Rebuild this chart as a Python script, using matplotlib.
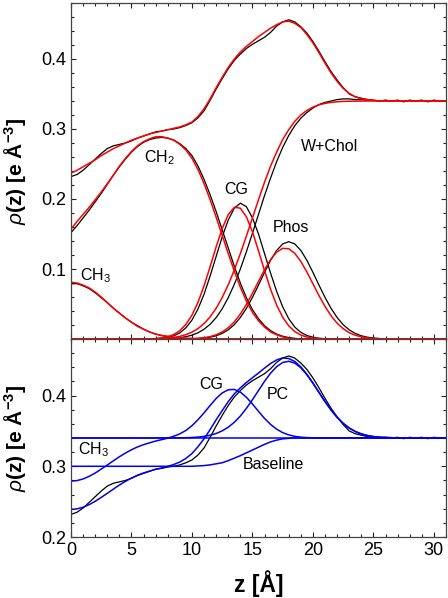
import matplotlib
matplotlib.use('Agg')
import matplotlib.pyplot as plt
from matplotlib.ticker import MultipleLocator

plt.rcParams['font.family'] = ['Liberation Sans', 'DejaVu Sans']
plt.rcParams['mathtext.fontset'] = 'custom'
plt.rcParams['mathtext.it'] = 'Liberation Sans:italic'
plt.rcParams['mathtext.rm'] = 'Liberation Sans'

# sample positions (Angstrom), every 0.5 from 0 to 31
z = [0.0, 0.5, 1.0, 1.5, 2.0, 2.5, 3.0, 3.5, 4.0, 4.5, 5.0, 5.5, 6.0, 6.5, 7.0, 7.5,
     8.0, 8.5, 9.0, 9.5, 10.0, 10.5, 11.0, 11.5, 12.0, 12.5, 13.0, 13.5, 14.0, 14.5,
     15.0, 15.5, 16.0, 16.5, 17.0, 17.5, 18.0, 18.5, 19.0, 19.5, 20.0, 20.5, 21.0,
     21.5, 22.0, 22.5, 23.0, 23.5, 24.0, 24.5, 25.0, 25.5, 26.0, 26.5, 27.0, 27.5,
     28.0, 28.5, 29.0, 29.5, 30.0, 30.5, 31.0]

# ---- top panel: simulation (black) and model fit (red) ----
total_sim = [0.232, 0.235, 0.241, 0.249, 0.257, 0.265, 0.272, 0.276, 0.278, 0.280, 0.283,
             0.287, 0.290, 0.293, 0.296, 0.297, 0.299, 0.300, 0.302, 0.305, 0.309, 0.316,
             0.326, 0.341, 0.357, 0.372, 0.386, 0.398, 0.407, 0.415, 0.421, 0.426, 0.431,
             0.438, 0.447, 0.453, 0.456, 0.453, 0.446, 0.437, 0.425, 0.411, 0.396, 0.382,
             0.370, 0.359, 0.350, 0.346, 0.344, 0.342, 0.341,
             0.340, 0.341, 0.340, 0.341, 0.339, 0.341, 0.340, 0.341, 0.339, 0.341, 0.340, 0.340]
total_fit = [0.237, 0.241, 0.246, 0.251, 0.256, 0.262, 0.267, 0.272, 0.276, 0.280, 0.284,
             0.287, 0.290, 0.293, 0.295, 0.297, 0.299, 0.301, 0.303, 0.306, 0.310, 0.318,
             0.329, 0.343, 0.359, 0.374, 0.388, 0.400, 0.410, 0.418, 0.425, 0.432, 0.438,
             0.444, 0.449, 0.453, 0.454, 0.451, 0.445, 0.435, 0.423, 0.409, 0.394, 0.380,
             0.368, 0.358, 0.351, 0.346, 0.343, 0.342, 0.341] + [0.340] * 12

ch3_sim = [0.079, 0.079, 0.076, 0.072, 0.066, 0.059, 0.052, 0.044, 0.037, 0.030, 0.024,
           0.019, 0.014, 0.010, 0.007, 0.005, 0.003, 0.002, 0.001, 0.001, 0.000] + [0.0] * 42
ch3_fit = [0.081, 0.080, 0.077, 0.073, 0.067, 0.060, 0.052, 0.044, 0.037, 0.030, 0.024,
           0.018, 0.014, 0.010, 0.007, 0.005, 0.004, 0.002, 0.002, 0.001, 0.001] + [0.0] * 42

ch2_sim = [0.152, 0.162, 0.173, 0.184, 0.196, 0.208, 0.221, 0.234, 0.246, 0.257, 0.267,
           0.275, 0.281, 0.285, 0.287, 0.288, 0.287, 0.284, 0.279, 0.272, 0.262, 0.247,
           0.228, 0.206, 0.182, 0.156, 0.130, 0.104, 0.080, 0.059, 0.042, 0.029, 0.019,
           0.012, 0.007, 0.004, 0.002, 0.001] + [0.0] * 25
ch2_fit = [0.157, 0.168, 0.178, 0.188, 0.199, 0.210, 0.222, 0.234, 0.247, 0.258, 0.268,
           0.276, 0.282, 0.286, 0.289, 0.289, 0.287, 0.284, 0.278, 0.270, 0.258, 0.242,
           0.222, 0.199, 0.174, 0.148, 0.122, 0.097, 0.074, 0.054, 0.038, 0.026, 0.017,
           0.010, 0.006, 0.003, 0.001] + [0.0] * 26

cg_sim = [0.0] * 14 + [0.0004, 0.0010, 0.0022, 0.0045, 0.0088, 0.016, 0.027, 0.043, 0.064,
                       0.090, 0.118, 0.146, 0.170, 0.187, 0.194, 0.189, 0.173, 0.150, 0.122,
                       0.094, 0.068, 0.046, 0.029, 0.017, 0.0095, 0.005, 0.0025, 0.001,
                       0.0005] + [0.0] * 20
cg_fit = [0.0] * 14 + [0.0007, 0.0016, 0.0033, 0.0064, 0.0120, 0.0208, 0.0341, 0.0525,
                       0.0760, 0.1032, 0.1317, 0.1579, 0.1778, 0.1881, 0.1869, 0.1745,
                       0.1531, 0.1261, 0.0976, 0.0709, 0.0485, 0.0311, 0.0188, 0.0106,
                       0.0057, 0.0028, 0.0013, 0.0006, 0.0002] + [0.0] * 20

phos_sim = [0.0] * 20 + [0.0003, 0.0007, 0.0014, 0.0026, 0.0046, 0.0080, 0.0131, 0.0205,
                         0.0307, 0.0437, 0.0594, 0.0770, 0.0952, 0.1124, 0.1265, 0.1358,
                         0.1390, 0.1358, 0.1265, 0.1124, 0.0952, 0.0770, 0.0594, 0.0437,
                         0.0307, 0.0205, 0.0131, 0.0080, 0.0046, 0.0026, 0.0014, 0.0007,
                         0.0003] + [0.0] * 10
phos_fit = [0.0] * 20 + [0.0005, 0.0010, 0.0019, 0.0034, 0.0060, 0.0101, 0.0161, 0.0245,
                         0.0356, 0.0494, 0.0653, 0.0823, 0.0989, 0.1135, 0.1241, 0.1295,
                         0.1289, 0.1224, 0.1108, 0.0957, 0.0789, 0.0620, 0.0465, 0.0332,
                         0.0226, 0.0147, 0.0091, 0.0054, 0.0031, 0.0016, 0.0008, 0.0004,
                         0.0002] + [0.0] * 10

wchol_sim = [0.0] * 14 + [0.0001, 0.0003, 0.0006, 0.0011, 0.0019, 0.0033, 0.0055, 0.0089,
                          0.0139, 0.0210, 0.0306, 0.0432, 0.0591, 0.0781, 0.100, 0.1247,
                          0.151, 0.178, 0.205, 0.230, 0.2533, 0.2737, 0.2907, 0.3047, 0.3155,
                          0.3235, 0.330, 0.335, 0.338, 0.340, 0.342, 0.343, 0.343, 0.342,
                          0.342, 0.341, 0.341,
                          0.340, 0.341, 0.340, 0.341, 0.339, 0.341, 0.340, 0.341, 0.339,
                          0.341, 0.340, 0.340]
wchol_fit = [0.0] * 10 + [0.0, 0.0001, 0.0001, 0.0002, 0.0004, 0.0007, 0.0013, 0.0022,
                          0.0038, 0.0062, 0.0098, 0.0148, 0.0221, 0.0316, 0.0439, 0.0592,
                          0.0775, 0.0986, 0.122, 0.147, 0.173, 0.199, 0.224, 0.247, 0.267,
                          0.285, 0.299, 0.311, 0.320, 0.3265, 0.3313, 0.3345, 0.3366,
                          0.338, 0.3389, 0.3394, 0.3397, 0.3398, 0.3399] + [0.340] * 14

# ---- bottom panel: blue model components ----
bulk_level = [0.340] * 63
baseline = [0.300] * 21 + [0.3005, 0.301, 0.302, 0.3035, 0.305, 0.308, 0.3115, 0.315,
                           0.319, 0.323, 0.327, 0.331, 0.3345, 0.337, 0.3388, 0.3395] + [0.340] * 26
ch3_cg = [0.279, 0.2798, 0.2821, 0.2858, 0.2905, 0.296, 0.3018, 0.3077, 0.3135, 0.3187,
          0.3234, 0.3274, 0.3306, 0.3332, 0.3357, 0.3377, 0.3398, 0.3425, 0.3459, 0.3507,
          0.3574, 0.3659, 0.3756, 0.386, 0.3959, 0.4037, 0.4082, 0.4087, 0.4049, 0.3976,
          0.3881, 0.3777, 0.3677, 0.3592, 0.3525, 0.3476, 0.3444, 0.3423, 0.3412, 0.3406,
          0.3403] + [0.340] * 22
pc = [0.340] * 17 + [0.3401, 0.3402, 0.3404, 0.3407, 0.3413, 0.3423, 0.3439, 0.3464, 0.3501,
                     0.3553, 0.3622, 0.3711, 0.3819, 0.3941, 0.4072, 0.4201, 0.4317, 0.4409,
                     0.4468, 0.4485, 0.4459, 0.4394, 0.4295, 0.4175, 0.4045, 0.3915, 0.3796,
                     0.3692, 0.3607, 0.3541, 0.3492, 0.3458, 0.3435, 0.342, 0.3412, 0.3407,
                     0.3404, 0.3402] + [0.340] * 8
total_blue = [0.239, 0.2398, 0.2421, 0.2458, 0.2505, 0.256, 0.2618, 0.2677, 0.2735, 0.2787,
              0.2834, 0.2874, 0.2906, 0.2932, 0.2957, 0.2977, 0.2998, 0.3026, 0.3061, 0.3111,
              0.3181, 0.3277, 0.3389, 0.3519, 0.3658, 0.3788, 0.3915, 0.4024, 0.411, 0.4185,
              0.4252, 0.4319, 0.4388, 0.4454, 0.4504, 0.4532, 0.4524, 0.4482, 0.4406, 0.4301,
              0.4178, 0.4045, 0.3915, 0.3796, 0.3692, 0.3607, 0.3541, 0.3492, 0.3458, 0.3435,
              0.342, 0.3412, 0.3407, 0.3404, 0.3402] + [0.340] * 8

RED = '#ff0000'
BLUE = '#0000ee'

fig = plt.figure(figsize=(4.48, 5.98), dpi=100)
ax1 = fig.add_axes([0.1585, 0.4331, 0.837, 0.5619])
ax2 = fig.add_axes([0.1585, 0.102, 0.837, 0.3311])

pairs = [(total_sim, total_fit), (ch3_sim, ch3_fit), (ch2_sim, ch2_fit),
         (cg_sim, cg_fit), (phos_sim, phos_fit), (wchol_sim, wchol_fit)]
for sim, fit in pairs:
    ax1.plot(z, sim, color='black', lw=0.9)
for sim, fit in pairs:
    ax1.plot(z, fit, color=RED, lw=1.1)

ax2.plot(z, total_sim, color='black', lw=0.9)
for series in (bulk_level, baseline, ch3_cg, pc, total_blue):
    ax2.plot(z, series, color=BLUE, lw=1.1)

lab = dict(fontsize=11.5, ha='center', va='center')
ax1.text(7.3, 0.259, 'CH$_\\mathregular{2}$', **lab)
ax1.text(2.0, 0.090, 'CH$_\\mathregular{3}$', **lab)
ax1.text(13.7, 0.214, 'CG', **lab)
ax1.text(18.2, 0.160, 'Phos', **lab)
ax1.text(21.4, 0.275, 'W+Chol', **lab)

ax2.text(11.6, 0.415, 'CG', **lab)
ax2.text(17.1, 0.401, 'PC', **lab)
ax2.text(1.9, 0.323, 'CH$_\\mathregular{3}$', **lab)
ax2.text(16.7, 0.302, 'Baseline', **lab)

for ax in (ax1, ax2):
    ax.set_xlim(0, 31)
    ax.xaxis.set_major_locator(MultipleLocator(5))
    ax.xaxis.set_minor_locator(MultipleLocator(1))
    ax.tick_params(which='both', direction='in', top=True, right=True,
                   width=0.8, color='#222222', labelsize=13)
    ax.tick_params(which='major', length=3.5)
    ax.tick_params(which='minor', length=2.0)
    for s in ax.spines.values():
        s.set_color('#444444')
        s.set_linewidth(0.9)
    ax.set_ylabel(r'$\rho$(z) [e Å$^{\mathregular{-3}}$]', fontsize=15,
                  fontweight='bold')

ax1.set_ylim(0, 0.48)
ax1.set_yticks([0.1, 0.2, 0.3, 0.4])
ax1.yaxis.set_minor_locator(MultipleLocator(0.02))
ax1.tick_params(labelbottom=False)

ax2.set_ylim(0.2, 0.48)
ax2.set_yticks([0.2, 0.3, 0.4])
ax2.yaxis.set_minor_locator(MultipleLocator(0.02))
ax2.set_xlabel('z [Å]', fontsize=16.5, fontweight='bold', labelpad=8)

for ax in (ax1, ax2):
    ax.yaxis.set_label_coords(-0.115, 0.5)

fig.savefig('out.png', dpi=100)
